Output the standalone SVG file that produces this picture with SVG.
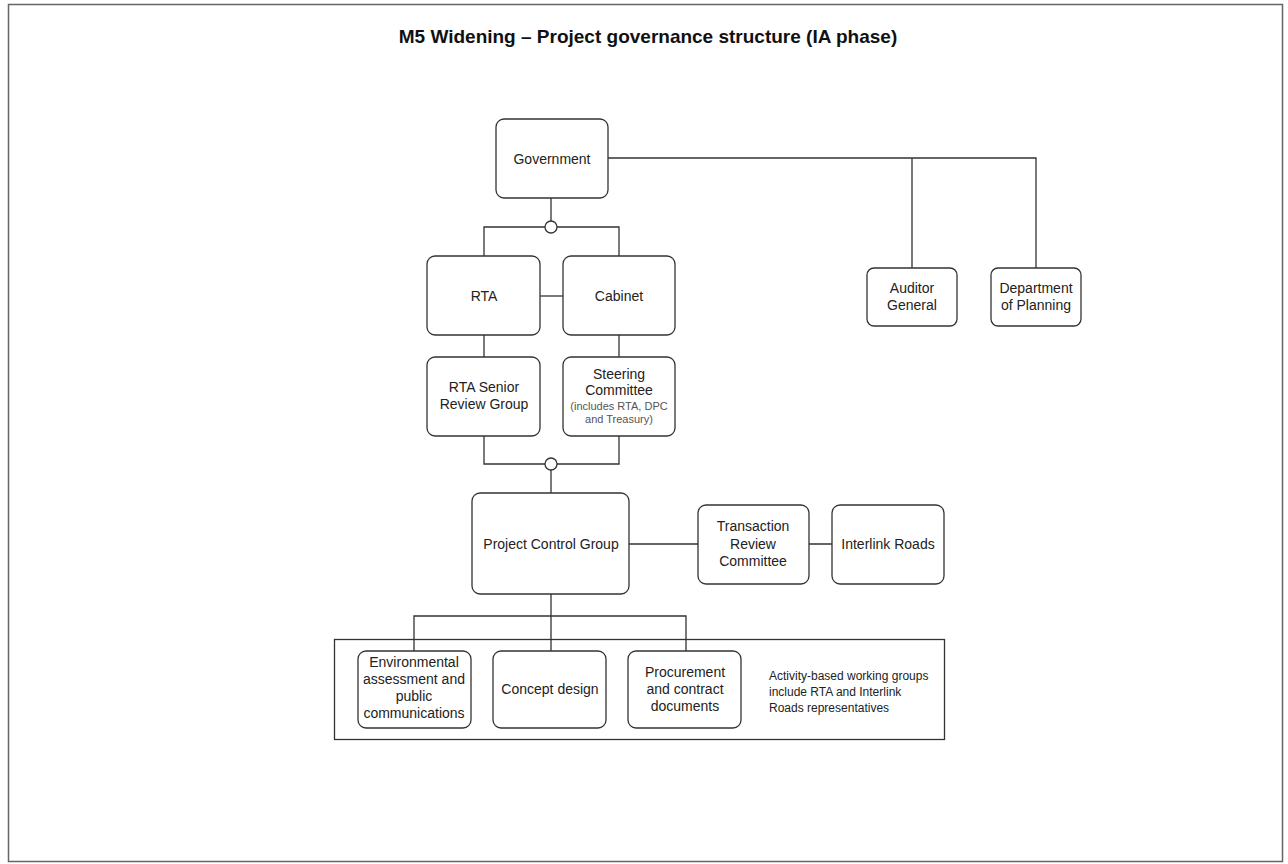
<svg xmlns="http://www.w3.org/2000/svg" width="1288" height="864" viewBox="0 0 1288 864">
<style>
.box{fill:#fff;stroke:#333;stroke-width:1.3}
.ln{fill:none;stroke:#333;stroke-width:1.3}
text{font-family:"Liberation Sans",Arial,sans-serif;font-size:14px;fill:#222;text-anchor:middle}
.small{font-size:11px;fill:#555}
.title{font-size:19px;font-weight:bold;fill:#111}
.left{text-anchor:start;font-size:12px}
</style>
<rect x="0" y="0" width="1288" height="864" fill="#fff"/>
<rect x="8.5" y="4.5" width="1274" height="857" fill="none" stroke="#666" stroke-width="1.5"/>
<text class="title" x="648" y="43">M5 Widening – Project governance structure (IA phase)</text>
<g id="connectors">
<path class="ln" d="M551 198 V221 M484 256 V227 H545 M557 227 H619 V256"/>
<path class="ln" d="M540 296 H563"/>
<path class="ln" d="M484 335 V357 M619 335 V357"/>
<path class="ln" d="M484 436 V464 H545 M557 464 H619 V436 M551 470 V493"/>
<path class="ln" d="M608 158 H1036 V268 M912 158 V268"/>
<path class="ln" d="M629 544 H698 M809 544 H832"/>
<path class="ln" d="M551 594 V651 M414 651 V616 H686 V651"/>
<circle class="box" cx="551" cy="227" r="6"/>
<circle class="box" cx="551" cy="464" r="6"/>
</g>
<g id="government"><rect class="box" x="496" y="119" width="112" height="79" rx="8"/><text x="552" y="164">Government</text></g>
<g id="rta"><rect class="box" x="427" y="256" width="113" height="79" rx="8"/><text x="484" y="301">RTA</text></g>
<g id="cabinet"><rect class="box" x="563" y="256" width="112" height="79" rx="8"/><text x="619" y="301">Cabinet</text></g>
<g id="rta-senior"><rect class="box" x="427" y="357" width="113" height="79" rx="8"/><text x="484" y="392">RTA Senior</text><text x="484" y="409">Review Group</text></g>
<g id="steering"><rect class="box" x="563" y="357" width="112" height="79" rx="8"/><text x="619" y="379">Steering</text><text x="619" y="395">Committee</text><text class="small" x="619" y="410">(includes RTA, DPC</text><text class="small" x="619" y="423">and Treasury)</text></g>
<g id="auditor"><rect class="box" x="867" y="268" width="90" height="58" rx="7"/><text x="912" y="293">Auditor</text><text x="912" y="310">General</text></g>
<g id="planning"><rect class="box" x="991" y="268" width="90" height="58" rx="7"/><text x="1036" y="293">Department</text><text x="1036" y="310">of Planning</text></g>
<g id="pcg"><rect class="box" x="472" y="493" width="157" height="101" rx="8"/><text x="551" y="549">Project Control Group</text></g>
<g id="transaction"><rect class="box" x="698" y="505" width="111" height="79" rx="8"/><text x="753" y="531">Transaction</text><text x="753" y="549">Review</text><text x="753" y="566">Committee</text></g>
<g id="interlink"><rect class="box" x="832" y="505" width="112" height="79" rx="8"/><text x="888" y="549">Interlink Roads</text></g>
<g id="working-groups">
<rect class="ln" x="334.5" y="639.5" width="610" height="100"/>
<text class="left" x="769" y="680">Activity-based working groups</text>
<text class="left" x="769" y="696">include RTA and Interlink</text>
<text class="left" x="769" y="712">Roads representatives</text>
</g>
<g id="environmental"><rect class="box" x="358" y="651" width="113" height="77" rx="8"/><text x="414" y="667">Environmental</text><text x="414" y="684">assessment and</text><text x="414" y="701">public</text><text x="414" y="718">communications</text></g>
<g id="concept"><rect class="box" x="493" y="651" width="113" height="77" rx="8"/><text x="550" y="694">Concept design</text></g>
<g id="procurement"><rect class="box" x="628" y="651" width="113" height="77" rx="8"/><text x="685" y="677">Procurement</text><text x="685" y="694">and contract</text><text x="685" y="711">documents</text></g>
</svg>
